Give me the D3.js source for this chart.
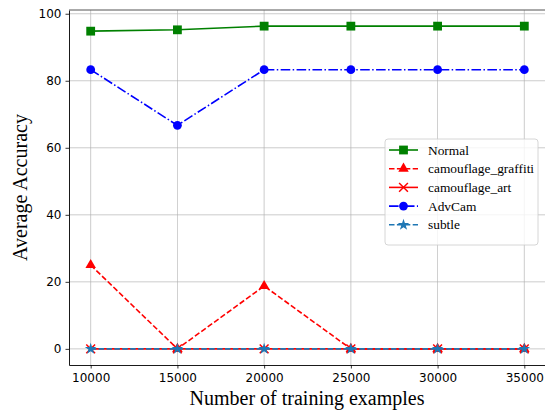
<!DOCTYPE html>
<html>
<head>
<meta charset="utf-8">
<script src="https://cdn.jsdelivr.net/npm/d3@7"></script>
<style>
  body { margin: 0; background: #fff; }
  svg { display: block; }
</style>
</head>
<body>
<div id="chart"></div>
<script>
// training set sizes and accuracy per attack type
const trainSizes = [10000, 15000, 20000, 25000, 30000, 35000];
const normalAcc = [94.8, 95.2, 96.3, 96.3, 96.3, 96.3];
const graffitiAcc = [25, 0, 18.75, 0, 0, 0];
const artAcc = [0, 0, 0, 0, 0, 0];
const advCamAcc = [83.3, 66.7, 83.3, 83.3, 83.3, 83.3];
const subtleAcc = [0, 0, 0, 0, 0, 0];
const yTicks = [0, 20, 40, 60, 80, 100];

const series = [
  { name: 'Normal', values: normalAcc, color: 'green', dash: null, marker: 'square' },
  { name: 'camouflage_graffiti', values: graffitiAcc, color: 'red', dash: '5.5,2.4', marker: 'triangle' },
  { name: 'camouflage_art', values: artAcc, color: 'red', dash: null, marker: 'x' },
  { name: 'AdvCam', values: advCamAcc, color: 'blue', dash: '9.6,2.4,1.5,2.4', marker: 'circle' },
  { name: 'subtle', values: subtleAcc, color: '#1f77b4', dash: '5.5,2.4', marker: 'star' }
];

const width = 545, height = 414;
const margin = { left: 69, right: -1, top: 10, bottom: 49 };

const svg = d3.select('#chart').append('svg')
  .attr('width', width)
  .attr('height', height);

const x = d3.scaleLinear()
  .domain([10000 - 1250, 35000 + 1250])
  .range([margin.left, width - margin.right]);
const y = d3.scaleLinear()
  .domain([-4.815, 101.115])
  .range([height - margin.bottom, margin.top]);

const plotTop = margin.top, plotBottom = height - margin.bottom;

// grid
svg.append('g').selectAll('line.vg')
  .data(trainSizes).enter().append('line')
  .attr('x1', d => x(d)).attr('x2', d => x(d))
  .attr('y1', plotTop).attr('y2', plotBottom)
  .attr('stroke', '#b0b0b0').attr('stroke-width', 0.8).attr('opacity', 0.8);
svg.append('g').selectAll('line.hg')
  .data(yTicks).enter().append('line')
  .attr('x1', margin.left).attr('x2', width)
  .attr('y1', d => y(d)).attr('y2', d => y(d))
  .attr('stroke', '#b0b0b0').attr('stroke-width', 0.8).attr('opacity', 0.8);

// axes
const xAxis = svg.append('g')
  .attr('transform', `translate(0,${plotBottom})`)
  .call(d3.axisBottom(x).tickValues(trainSizes).tickSize(3.5).tickSizeOuter(0).tickPadding(5).tickFormat(d3.format('d')));
const yAxis = svg.append('g')
  .attr('transform', `translate(${margin.left},0)`)
  .call(d3.axisLeft(y).tickValues(yTicks).tickSize(3.5).tickSizeOuter(0).tickPadding(4));
[xAxis, yAxis].forEach(g => {
  g.selectAll('text').attr('font-family', 'DejaVu Sans').attr('font-size', 12).attr('fill', '#000');
  g.selectAll('line').attr('stroke', '#000').attr('stroke-width', 0.8);
  g.select('.domain').attr('stroke', '#000').attr('stroke-width', 0.9);
});
// top spine
svg.append('line')
  .attr('x1', margin.left).attr('x2', width)
  .attr('y1', plotTop).attr('y2', plotTop)
  .attr('stroke', '#555').attr('stroke-width', 1);

// marker shapes
function drawMarker(g, type, color, size) {
  const s = size;
  if (type === 'square') {
    g.append('rect').attr('x', -s / 2).attr('y', -s / 2).attr('width', s).attr('height', s)
      .attr('fill', color);
  } else if (type === 'triangle') {
    g.append('path').attr('d', d3.symbol(d3.symbolTriangle, s * s * 0.62)())
      .attr('fill', color);
  } else if (type === 'circle') {
    g.append('circle').attr('r', s / 2).attr('fill', color);
  } else if (type === 'star') {
    g.append('path').attr('d', d3.symbol(d3.symbolStar, s * s * 0.55)())
      .attr('fill', color);
  } else if (type === 'x') {
    const h = s / 2;
    g.append('path').attr('d', `M${-h},${-h}L${h},${h}M${-h},${h}L${h},${-h}`)
      .attr('stroke', color).attr('stroke-width', 1.5).attr('fill', 'none');
  }
}

const line = d3.line()
  .x((d, i) => x(trainSizes[i]))
  .y(d => y(d));

series.forEach(s => {
  const g = svg.append('g');
  g.append('path')
    .datum(s.values)
    .attr('d', line)
    .attr('fill', 'none')
    .attr('stroke', s.color)
    .attr('stroke-width', 1.6)
    .attr('stroke-dasharray', s.dash);
  s.values.forEach((v, i) => {
    const mg = g.append('g').attr('transform', `translate(${x(trainSizes[i])},${y(v)})`);
    drawMarker(mg, s.marker, s.color, 8.8);
  });
});

// axis labels
svg.append('text')
  .attr('x', (margin.left + 545) / 2)
  .attr('y', 405)
  .attr('text-anchor', 'middle')
  .attr('font-family', 'Liberation Serif')
  .attr('font-size', 20)
  .text('Number of training examples');
svg.append('text')
  .attr('transform', `translate(27,${(plotTop + plotBottom) / 2}) rotate(-90)`)
  .attr('text-anchor', 'middle')
  .attr('font-family', 'Liberation Serif')
  .attr('font-size', 20)
  .text('Average Accuracy');

// legend
const legend = svg.append('g').attr('transform', 'translate(385,139)');
legend.append('rect')
  .attr('width', 153).attr('height', 106)
  .attr('rx', 3)
  .attr('fill', 'rgba(255,255,255,0.8)')
  .attr('stroke', '#ccc').attr('stroke-width', 0.8);
series.forEach((s, i) => {
  const row = legend.append('g').attr('transform', `translate(0,${11 + i * 18.7})`);
  row.append('line')
    .attr('x1', 4).attr('x2', 33).attr('y1', 0).attr('y2', 0)
    .attr('stroke', s.color).attr('stroke-width', 1.6)
    .attr('stroke-dasharray', s.dash);
  drawMarker(row.append('g').attr('transform', 'translate(18.5,0)'), s.marker, s.color, 8.8);
  row.append('text')
    .attr('x', 43).attr('y', 4.5)
    .attr('font-family', 'Liberation Serif')
    .attr('font-size', 13.4)
    .text(s.name);
});
</script>
</body>
</html>
